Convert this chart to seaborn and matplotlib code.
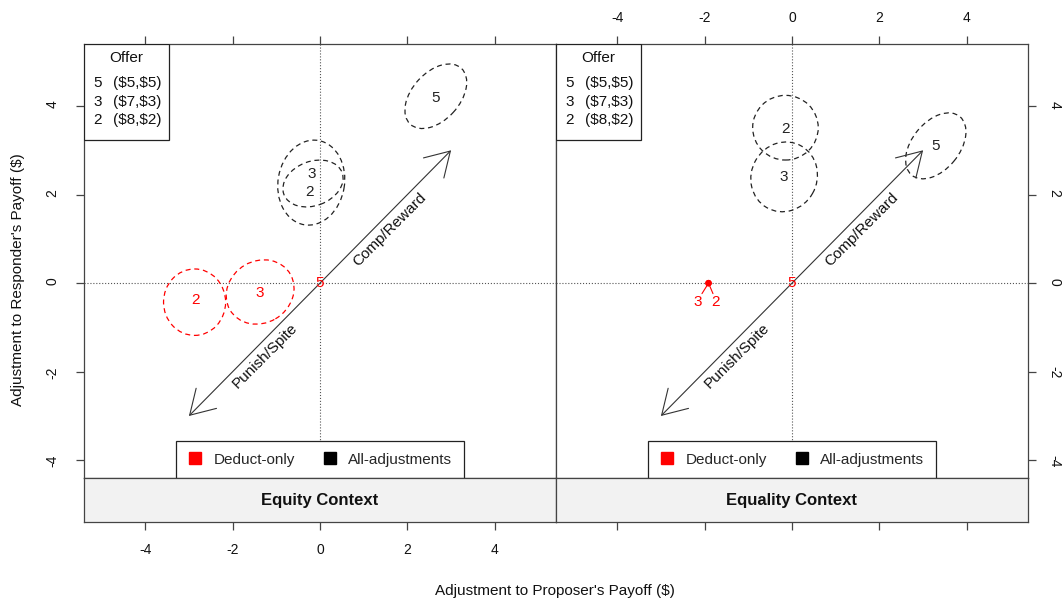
import numpy as np
import pandas as pd
import seaborn as sns
import matplotlib.pyplot as plt
from matplotlib.patches import Ellipse, Rectangle
from matplotlib.lines import Line2D

# Offers shown in the key
offers = ['5', '3', '2']
offer_splits = [r'(\$5,\$5)', r'(\$7,\$3)', r'(\$8,\$2)']
contexts = ['Equity Context', 'Equality Context']

# Equity context - all adjustments (black), offers 5, 3, 2
equity_all_cx = [2.65, -0.20, -0.16]
equity_all_cy = [4.22, 2.27, 2.25]
equity_all_w = [1.72, 1.93, 1.42]
equity_all_h = [1.08, 1.52, 1.00]
equity_all_ang = [47, 80, 20]
equity_all_lx = [2.65, -0.20, -0.23]
equity_all_ly = [4.18, 2.46, 2.05]

# Equity context - deduct only (red), offers 5, 3, 2 (offer 5 has no spread)
equity_ded_cx = [0.0, -1.37, -2.87]
equity_ded_cy = [0.0, -0.20, -0.43]
equity_ded_w = [0.0, 1.60, 1.42]
equity_ded_h = [0.0, 1.40, 1.50]
equity_ded_ang = [0, 30, 0]
equity_ded_lx = [0.0, -1.37, -2.86]
equity_ded_ly = [0.0, -0.23, -0.38]

# Equality context - all adjustments (black)
equality_all_cx = [3.29, -0.18, -0.15]
equality_all_cy = [3.10, 2.40, 3.51]
equality_all_w = [1.72, 1.60, 1.50]
equality_all_h = [1.08, 1.50, 1.46]
equality_all_ang = [50, 60, 0]
equality_all_lx = [3.28, -0.18, -0.14]
equality_all_ly = [3.09, 2.39, 3.48]

# Equality context - deduct only (red): offers 3 and 2 sit on one point
equality_ded_cx = [0.0, -1.91, -1.91]
equality_ded_cy = [0.0, 0.0, 0.0]
equality_ded_lx = [0.0, -2.16, -1.74]
equality_ded_ly = [0.0, -0.43, -0.43]

ticks = [-4, -2, 0, 2, 4]

sns.set_theme(style='white')
plt.rcParams['font.family'] = ['Liberation Sans', 'DejaVu Sans']
plt.rcParams['axes.unicode_minus'] = False

fig = plt.figure(figsize=(10.62, 6.03), dpi=100)
W, H = 1062, 603
frame_col = '#444444'


def px_axes(x0, y0, x1, y1, **kw):
    return fig.add_axes([x0 / W, 1 - y1 / H, (x1 - x0) / W, (y1 - y0) / H], **kw)


ax1 = px_axes(84, 44, 556, 478)
ax2 = px_axes(556, 44, 1028, 478, sharey=ax1)
st1 = px_axes(84, 478, 556, 522, sharex=ax1)
st2 = px_axes(556, 478, 1028, 522, sharex=ax2)

for ax in [ax1, ax2, st1, st2]:
    for s in ax.spines.values():
        s.set_color(frame_col)
        s.set_linewidth(0.9)

for ax in [ax1, ax2]:
    ax.set_xlim(-5.4, 5.4)
    ax.set_ylim(-4.4, 5.4)
    ax.set_xticks(ticks)
    ax.set_yticks(ticks)
    ax.axhline(0, ls=':', color='#555555', lw=0.8, zorder=1)
    ax.axvline(0, ls=':', color='#555555', lw=0.8, zorder=1)
    ax.tick_params(direction='out', length=5.8, width=0.9, color=frame_col,
                   labelsize=10, labelcolor='#111111')
    # double-headed arrow
    ax.annotate('', xy=(3, 3), xytext=(-3, -3),
                arrowprops=dict(arrowstyle='<->,head_length=1.71,head_width=1.03',
                                mutation_scale=10, lw=0.8, color='#333333',
                                shrinkA=0, shrinkB=0))
    ax.text(1.6, 1.2, 'Comp/Reward', rotation=45, rotation_mode='anchor',
            ha='center', va='center', fontsize=11, color='#111111')
    ax.text(-1.26, -1.63, 'Punish/Spite', rotation=45, rotation_mode='anchor',
            ha='center', va='center', fontsize=11, color='#111111')

# left panel ticks
ax1.tick_params(axis='x', top=True, labeltop=False, bottom=False, labelbottom=False)
ax1.tick_params(axis='y', left=True, labelleft=True, right=False, labelright=False,
                labelrotation=90, pad=12)
# right panel ticks
ax2.tick_params(axis='x', top=True, labeltop=True, bottom=False, labelbottom=False, pad=8)
ax2.tick_params(axis='y', left=False, labelleft=False, right=True, labelright=True,
                labelrotation=-90, pad=8)

for st, name in zip([st1, st2], contexts):
    st.set_facecolor('#f2f2f2')
    st.set_ylim(0, 1)
    st.set_yticks([])
    st.text(0.5, 0.5, name, transform=st.transAxes, ha='center', va='center',
            fontsize=12, fontweight='bold', color='#111111')
st1.tick_params(axis='x', bottom=True, labelbottom=True, direction='out', length=5.8,
                width=0.9, color=frame_col, labelsize=10, pad=9, labelcolor='#111111')
st2.tick_params(axis='x', bottom=True, labelbottom=False, direction='out', length=5.8,
                width=0.9, color=frame_col)


def draw_group(ax, cx, cy, w, h, ang, lx, ly, col):
    for x, y, ww, hh, a, tx, ty, lab in zip(cx, cy, w, h, ang, lx, ly, offers):
        if ww > 0:
            ax.add_patch(Ellipse((x, y), ww, hh, angle=a, fill=False, ls=(0, (4, 3)),
                                 lw=0.9, edgecolor=col, zorder=2))
        ax.text(tx, ty, lab, ha='center', va='center', fontsize=11, color=col, zorder=3)


draw_group(ax1, equity_all_cx, equity_all_cy, equity_all_w, equity_all_h,
           equity_all_ang, equity_all_lx, equity_all_ly, '#222222')
draw_group(ax1, equity_ded_cx, equity_ded_cy, equity_ded_w, equity_ded_h,
           equity_ded_ang, equity_ded_lx, equity_ded_ly, '#ff0000')
draw_group(ax2, equality_all_cx, equality_all_cy, equality_all_w, equality_all_h,
           equality_all_ang, equality_all_lx, equality_all_ly, '#222222')

# equality deduct-only: a single point for offers 3 and 2
pt = pd.DataFrame({'x': equality_ded_cx[1:], 'y': equality_ded_cy[1:]})
sns.scatterplot(data=pt, x='x', y='y', ax=ax2, color='#ff0000', s=22,
                edgecolor='none', zorder=4, legend=False)
for x, y, tx, ty, lab in zip(equality_ded_cx, equality_ded_cy, equality_ded_lx,
                             equality_ded_ly, offers):
    if lab != '5':
        ax2.plot([x, x + (tx - x) * 0.6], [y, y + (ty - y) * 0.55], color='#ff0000', lw=0.8)
    ax2.text(tx, ty, lab, ha='center', va='center', fontsize=11, color='#ff0000', zorder=3)
ax2.set_xlabel('')
ax2.set_ylabel('')

for ax in [ax1, ax2]:
    # offer key
    ax.add_patch(Rectangle((0, 0.779), 0.18, 0.221, transform=ax.transAxes,
                           facecolor='white', edgecolor='#222222', lw=0.9, zorder=5))
    ax.text(0.089, 0.968, 'Offer', transform=ax.transAxes, ha='center', va='center',
            fontsize=11, color='#111111', zorder=6)
    for i, (o, s) in enumerate(zip(offers, offer_splits)):
        yy = 0.909 - i * 0.042
        ax.text(0.019, yy, o, transform=ax.transAxes, ha='left', va='center',
                fontsize=11, color='#111111', zorder=6)
        ax.text(0.061, yy, s, transform=ax.transAxes, ha='left', va='center',
                fontsize=11, color='#111111', zorder=6)
    # group legend
    handles = [Line2D([], [], marker='s', color='#ff0000', ls='', markersize=8),
               Line2D([], [], marker='s', color='black', ls='', markersize=8)]
    leg = ax.legend(handles, ['Deduct-only', 'All-adjustments'], loc='lower center',
                    bbox_to_anchor=(0.5, 0), ncol=2, fancybox=False, framealpha=1,
                    edgecolor='#222222', borderaxespad=0, fontsize=11,
                    handlelength=1.0, handletextpad=0.7, columnspacing=1.8,
                    borderpad=0.75)
    leg.get_frame().set_linewidth(0.9)
    ax.set_xlabel('')
    ax.set_ylabel('')

fig.text(555 / W, 1 - 591 / H, r"Adjustment to Proposer's Payoff (\$)", ha='center',
         va='center', fontsize=11, color='#111111')
fig.text(18 / W, 1 - 280 / H, r"Adjustment to Responder's Payoff (\$)", ha='center',
         va='center', rotation=90, fontsize=11, color='#111111')

fig.savefig('out.png', dpi=100)
